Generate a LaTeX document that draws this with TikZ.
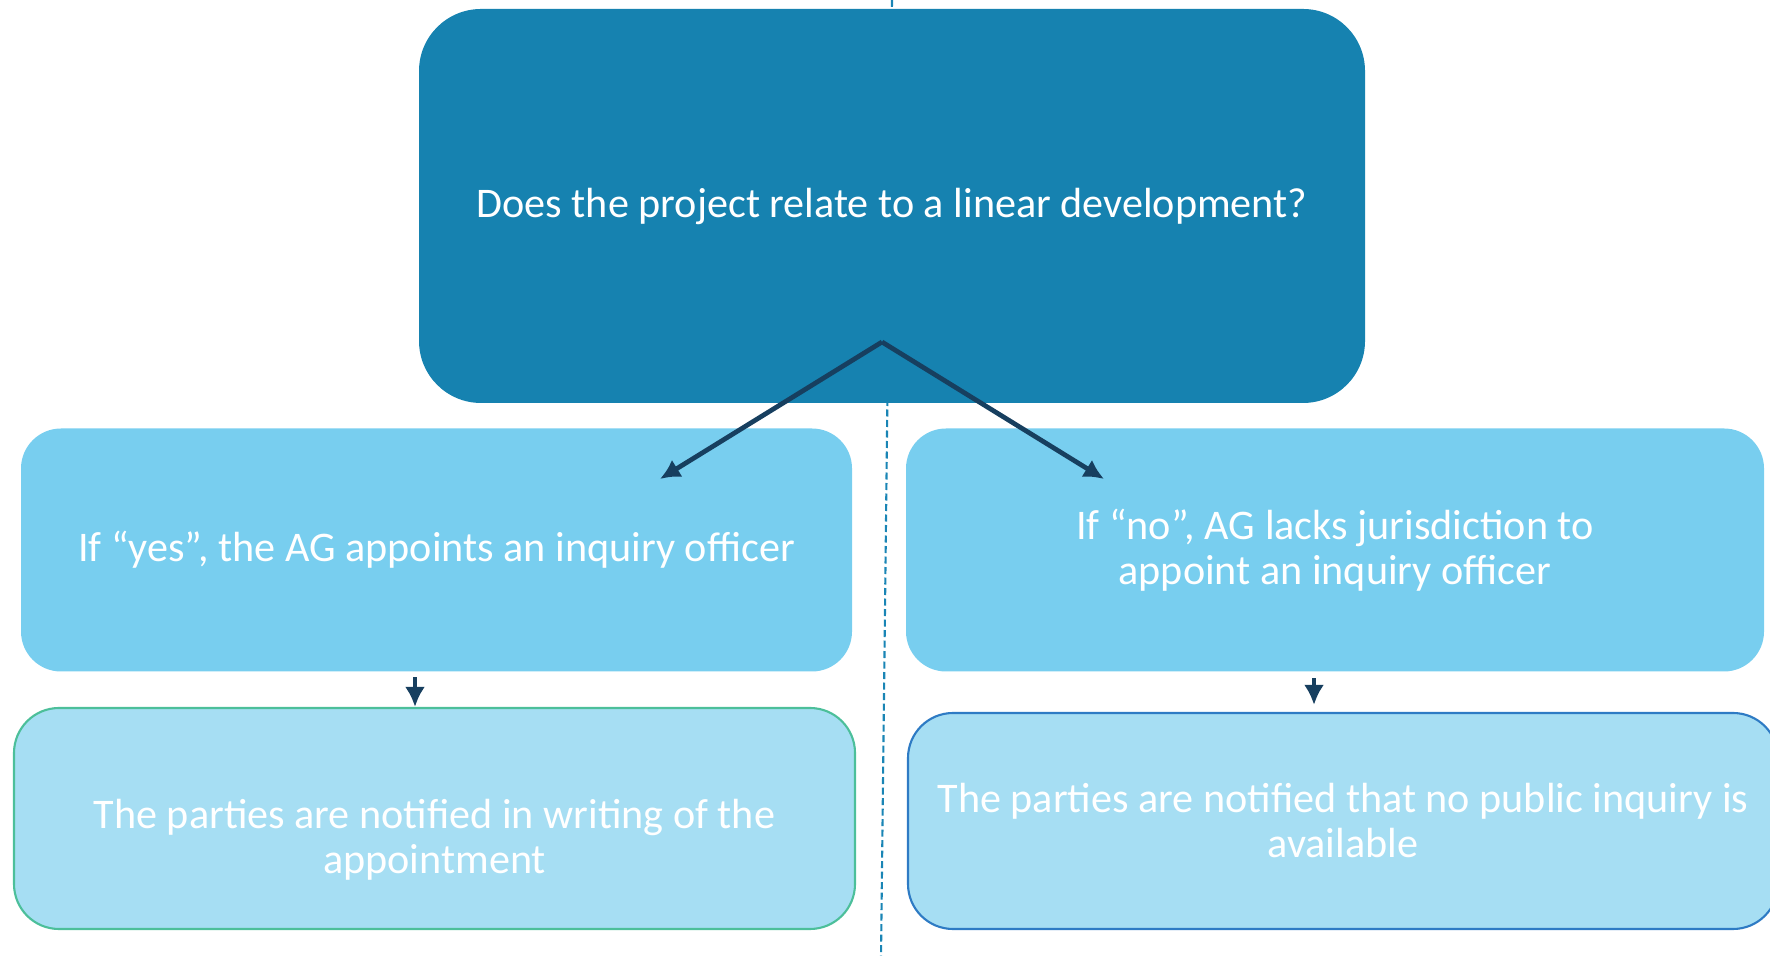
\documentclass[tikz,border=0pt]{standalone}
\usepackage{fontspec}
\setmainfont{Carlito}
\usepackage{xcolor}
\usepackage{tikz}
\usetikzlibrary{arrows.meta,positioning}
\definecolor{deepsea}{HTML}{1682B0}
\definecolor{shallow}{HTML}{78CEEF}
\definecolor{mist}{HTML}{A6DEF3}
\definecolor{leafline}{HTML}{4CBF9A}
\definecolor{skyline}{HTML}{2E7BC4}
\definecolor{navy}{HTML}{173F5F}
\definecolor{divblue}{HTML}{1A85B5}

\begin{document}
\begin{tikzpicture}[>=Latex,text=white,font=\fontsize{12}{12.8}\selectfont,
  question/.style={fill=deepsea,rounded corners=.62cm,minimum width=9.46cm,minimum height=3.94cm},
  answer/.style={fill=shallow,rounded corners=.4cm,minimum height=2.43cm,align=center},
  outcome/.style={fill=mist,line width=.6pt,rounded corners=.45cm,align=center},
  divider/.style={divblue,line width=.6pt,dash pattern=on .07cm off .035cm},
  branch/.style={navy,line width=1.35pt,-{Latex[length=2mm,width=2mm]}},
  drop/.style={navy,line width=1.35pt,-{Latex[length=2mm,width=2mm]}}]
  \useasboundingbox (0,0) rectangle (17.7,9.56);
  % dashed divider runs behind every box
  \coordinate (divtop) at (8.92,9.56);
  \coordinate (divbot) at (8.81,0);
  \draw[divider] (divtop)--(divbot);
  \node[question] (q) at (8.92,7.50) {Does the project relate to a linear development?};
  \node[answer,minimum width=8.31cm] (yes) at (4.365,4.06) {If “yes”, the AG appoints an inquiry officer};
  \node[answer,minimum width=8.58cm] (no) at (13.35,4.06) {If “no”, AG lacks jurisdiction to\\appoint an inquiry officer};
  \node[outcome,draw=leafline,minimum width=8.41cm,minimum height=2.21cm] (yesout) at (4.345,1.375) {};
  \node[align=center] (yesnote) at ([yshift=-2.1mm]yesout.center)
    {The parties are notified in writing of the\\appointment};
  \node[outcome,draw=skyline,minimum width=8.70cm,minimum height=2.16cm] (noout) at (13.43,1.35)
    {The parties are notified that no public inquiry is\\available};
  % two branches leave from one point inside the question box
  \coordinate (split) at (8.82,6.14);
  \coordinate (yestip) at (6.60,4.77);
  \coordinate (notip) at (11.04,4.77);
  \draw[branch] (split)--(yestip);
  \draw[branch] (split)--(notip);
  \draw[drop,shorten <=.05cm] ([xshift=-2.15mm]yes.south)--([xshift=-2.15mm]yes.south |- yesout.north);
  \draw[drop,shorten <=.06cm,shorten >=.07cm] ([xshift=-2.1mm]no.south)--([xshift=-2.1mm]no.south |- noout.north);
\end{tikzpicture}
\end{document}
